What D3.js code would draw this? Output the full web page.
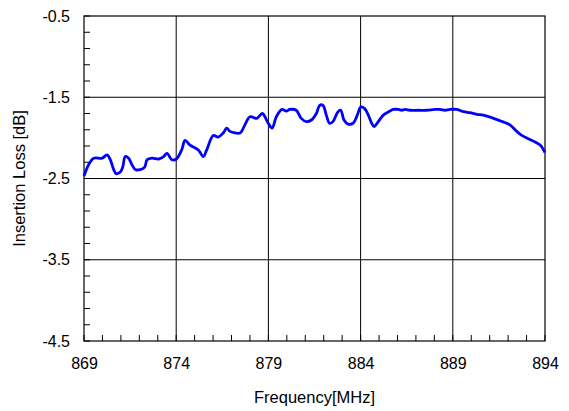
<!DOCTYPE html>
<html>
<head>
<meta charset="utf-8">
<script src="https://cdn.jsdelivr.net/npm/d3@7"></script>
<style>
  html, body { margin: 0; padding: 0; background: #fff; }
  svg { display: block; }
  text { font-family: Arial, "Liberation Sans", sans-serif; fill: #000; }
</style>
</head>
<body>
<svg id="chart" width="569" height="411"></svg>
<script>
// Measured insertion loss of the filter across the band
const freqMHz = [
  869.00, 869.25, 869.53, 869.98, 870.25, 870.43, 870.61, 870.74, 870.97, 871.10,
  871.24, 871.42, 871.60, 871.78, 872.05, 872.29, 872.42, 872.69, 873.05, 873.32,
  873.50, 873.77, 874.01, 874.31, 874.48, 874.75, 875.20, 875.47, 875.65, 876.01,
  876.28, 876.55, 876.74, 876.92, 877.46, 877.64, 878.00, 878.37, 878.67, 878.99,
  879.20, 879.43, 879.74, 879.97, 880.16, 880.51, 880.78, 881.06, 881.33, 881.60,
  881.78, 881.96, 882.14, 882.32, 882.50, 882.77, 882.92, 883.10, 883.32, 883.59,
  883.82, 884.01, 884.22, 884.42, 884.60, 884.73, 884.96, 885.23, 885.59, 885.77,
  886.04, 886.23, 886.41, 886.68, 887.13, 887.58, 888.03, 888.31, 888.58, 888.85,
  889.21, 889.48, 889.93, 890.30, 890.65, 891.11, 891.56, 892.10, 892.47, 892.74,
  893.09, 893.46, 893.75, 894.00
];
const lossDb = [
  -2.47, -2.33, -2.25, -2.25, -2.21, -2.27, -2.39, -2.44, -2.42, -2.36,
  -2.23, -2.25, -2.33, -2.39, -2.39, -2.36, -2.27, -2.25, -2.26, -2.23,
  -2.19, -2.27, -2.26, -2.14, -2.03, -2.09, -2.15, -2.23, -2.15, -1.97,
  -1.99, -1.94, -1.88, -1.92, -1.94, -1.88, -1.74, -1.76, -1.70, -1.82,
  -1.88, -1.74, -1.65, -1.67, -1.65, -1.66, -1.76, -1.80, -1.78, -1.70,
  -1.60, -1.60, -1.72, -1.82, -1.80, -1.68, -1.66, -1.78, -1.83, -1.82,
  -1.72, -1.62, -1.64, -1.72, -1.82, -1.86, -1.80, -1.72, -1.67, -1.65,
  -1.65, -1.66, -1.65, -1.66, -1.66, -1.66, -1.65, -1.65, -1.66, -1.65,
  -1.65, -1.67, -1.69, -1.71, -1.72, -1.75, -1.79, -1.84, -1.92, -1.97,
  -2.01, -2.05, -2.09, -2.18
];

const xTickValues = [869, 874, 879, 884, 889, 894];
const yTickValues = [-0.5, -1.5, -2.5, -3.5, -4.5];
const xMinorTicks = d3.range(869, 894.001, 1);
const yMinorTicks = d3.range(-4.5, -0.499, 0.2).map(v => +v.toFixed(2));

const xTitle = "Frequency[MHz]";
const yTitle = "Insertion Loss [dB]";

const margin = { left: 84, top: 16, right: 24, bottom: 70 };
const innerW = 545 - margin.left;
const innerH = 341 - margin.top;

const svg = d3.select("#chart");
const g = svg.append("g").attr("transform", `translate(${margin.left},${margin.top})`);

const x = d3.scaleLinear().domain([869, 894]).range([0, innerW]);
const y = d3.scaleLinear().domain([-4.5, -0.5]).range([innerH, 0]);

// Major grid lines
g.append("g").selectAll("line").data(xTickValues.slice(1, -1)).join("line")
  .attr("x1", d => x(d)).attr("x2", d => x(d))
  .attr("y1", 0).attr("y2", innerH)
  .attr("stroke", "#000").attr("stroke-width", 1);
g.append("g").selectAll("line").data(yTickValues.slice(1, -1)).join("line")
  .attr("x1", 0).attr("x2", innerW)
  .attr("y1", d => y(d)).attr("y2", d => y(d))
  .attr("stroke", "#000").attr("stroke-width", 1);

// Minor ticks pointing inward from the left and bottom axes
g.append("g").selectAll("line").data(yMinorTicks).join("line")
  .attr("x1", 0).attr("x2", 6)
  .attr("y1", d => y(d)).attr("y2", d => y(d))
  .attr("stroke", "#000").attr("stroke-width", 1);
g.append("g").selectAll("line").data(xMinorTicks).join("line")
  .attr("x1", d => x(d)).attr("x2", d => x(d))
  .attr("y1", innerH).attr("y2", innerH - 6)
  .attr("stroke", "#000").attr("stroke-width", 1);

// Plot frame
g.append("rect")
  .attr("x", 0).attr("y", 0).attr("width", innerW).attr("height", innerH)
  .attr("fill", "none").attr("stroke", "#000").attr("stroke-width", 1.2);

// Axes (labels only; lines come from the frame)
const xAxis = d3.axisBottom(x).tickValues(xTickValues).tickFormat(d => String(d)).tickSize(0).tickPadding(17);
const yAxis = d3.axisLeft(y).tickValues(yTickValues).tickFormat(d => d.toFixed(1)).tickSize(0).tickPadding(14);

const gx = g.append("g").attr("transform", `translate(0,${innerH})`).call(xAxis);
const gy = g.append("g").call(yAxis);
[gx, gy].forEach(a => {
  a.select(".domain").remove();
  a.selectAll("text").style("font-size", "16px").style("font-family", "Arial, 'Liberation Sans', sans-serif").attr("fill", "#000");
});

// Measured curve
const line = d3.line()
  .x((d, i) => x(freqMHz[i]))
  .y(d => y(d))
  .curve(d3.curveCatmullRom.alpha(0.5));

g.append("path")
  .datum(lossDb)
  .attr("d", line)
  .attr("fill", "none")
  .attr("stroke", "#0000ff")
  .attr("stroke-width", 2.8)
  .attr("stroke-linejoin", "round");

// Axis titles
svg.append("text")
  .attr("x", margin.left + innerW / 2).attr("y", 403)
  .attr("text-anchor", "middle")
  .style("font-size", "16.5px")
  .text(xTitle);

svg.append("text")
  .attr("transform", `translate(25,${margin.top + innerH / 2}) rotate(-90)`)
  .attr("text-anchor", "middle")
  .style("font-size", "16.5px")
  .text(yTitle);
</script>
</body>
</html>
